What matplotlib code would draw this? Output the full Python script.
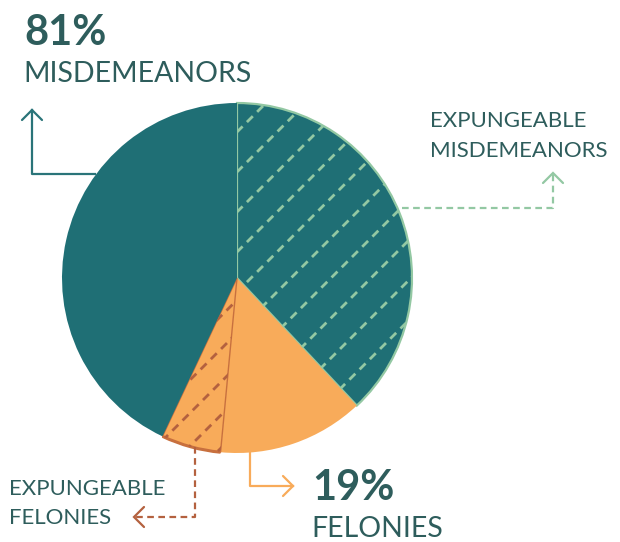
import numpy as np
import matplotlib.pyplot as plt
from matplotlib.patches import Arc

W, H = 620, 542

# slices, clockwise from 12 o'clock
slice_names = ["Expungeable misdemeanors", "Felonies", "Expungeable felonies", "Other misdemeanors"]
shares = [38, 13.5, 5.5, 43]
slice_colors = ["#1f6f75", "#f8ab5a", "#f8ab5a", "#1f6f75"]
hatch_colors = ["#93c8a3", None, "#b4613f", None]

misd_pct = "81%"
misd_label = "MISDEMEANORS"
fel_pct = "19%"
fel_label = "FELONIES"
exp_misd_label = ["EXPUNGEABLE", "MISDEMEANORS"]
exp_fel_label = ["EXPUNGEABLE", "FELONIES"]

text_color = "#2e5d5c"
font = "Lato"


def py(y):
    # pixel row (from top) -> data y
    return H - y


fig = plt.figure(figsize=(6.2, 5.42), dpi=100)
ax = fig.add_axes([0, 0, 1, 1])

cx, cy, r = 237, py(278), 175
wedges, _ = ax.pie(shares, colors=slice_colors, startangle=90, counterclock=False,
                   center=(cx, cy), radius=r, frame=True,
                   wedgeprops=dict(linewidth=0))
ax.set_xlim(0, W)
ax.set_ylim(0, H)
ax.set_aspect('equal')
ax.axis('off')

# outlines of hatched slices
wedges[0].set_edgecolor(hatch_colors[0])
wedges[0].set_linewidth(1.6)
wedges[2].set_edgecolor("#c8703e")
wedges[2].set_linewidth(1.0)

# dashed diagonal hatching clipped to the wedges
xs = np.array([cx - r - 50, cx + r + 50])
for i, spacing, b0 in [(0, 40, 173), (2, 33, 5)]:
    for k in range(-20, 20):
        b = b0 + k * spacing
        ln, = ax.plot(xs, xs + b, color=hatch_colors[i], lw=2.0,
                      dashes=(3.0, 2.2), solid_capstyle='butt')
        ln.set_clip_path(wedges[i])

# thicker bottom arc of expungeable felonies
th1 = 90 - 360 * sum(shares[:3]) / 100
th2 = 90 - 360 * sum(shares[:2]) / 100
ax.add_patch(Arc((cx, cy), 2 * r, 2 * r, theta1=th1, theta2=th2,
                 color="#c8703e", lw=2.2))


def chevron(x, y, dx, dy, color):
    ax.plot([x + dx - dy, x, x + dx + dy], [py(y + dy + dx), py(y), py(y + dy - dx)],
            color=color, lw=1.6, solid_capstyle='round', solid_joinstyle='miter')


# 81% misdemeanors callout
c1 = "#2a7479"
ax.plot([95, 32, 32], [py(174), py(174), py(110)], color=c1, lw=1.6)
chevron(32, 110, 0, 10, c1)

# expungeable misdemeanors callout
c2 = "#93c8a3"
ax.plot([402, 553, 553], [py(208), py(208), py(174)], color=c2, lw=1.6, dashes=(3, 2))
chevron(553, 173, 0, 10, c2)

# felonies callout
c3 = "#f8ab5a"
ax.plot([250, 250, 293], [py(450), py(486), py(486)], color=c3, lw=1.6)
chevron(293, 486, -10, 0, c3)

# expungeable felonies callout
c4 = "#b4613f"
ax.plot([195, 195, 136], [py(447), py(517), py(517)], color=c4, lw=1.6, dashes=(3, 2))
chevron(134, 517, 10, 0, c4)

# texts
ax.text(24, py(45), misd_pct, fontsize=30, fontweight='bold', color=text_color,
        family=font, va='baseline')
ax.text(23, py(82), misd_label, fontsize=20.5, color=text_color, family=font, va='baseline')
ax.text(312, py(500), fel_pct, fontsize=30, fontweight='bold', color=text_color,
        family=font, va='baseline')
ax.text(311, py(537), fel_label, fontsize=20.5, color=text_color, family=font, va='baseline')
for line, base in zip(exp_misd_label, [127, 157]):
    ax.text(430, py(base), line, fontsize=16, color=text_color, family=font, va='baseline')
for line, base in zip(exp_fel_label, [495, 524]):
    ax.text(9, py(base), line, fontsize=16, color=text_color, family=font, va='baseline')

fig.savefig("out.png", dpi=100)
